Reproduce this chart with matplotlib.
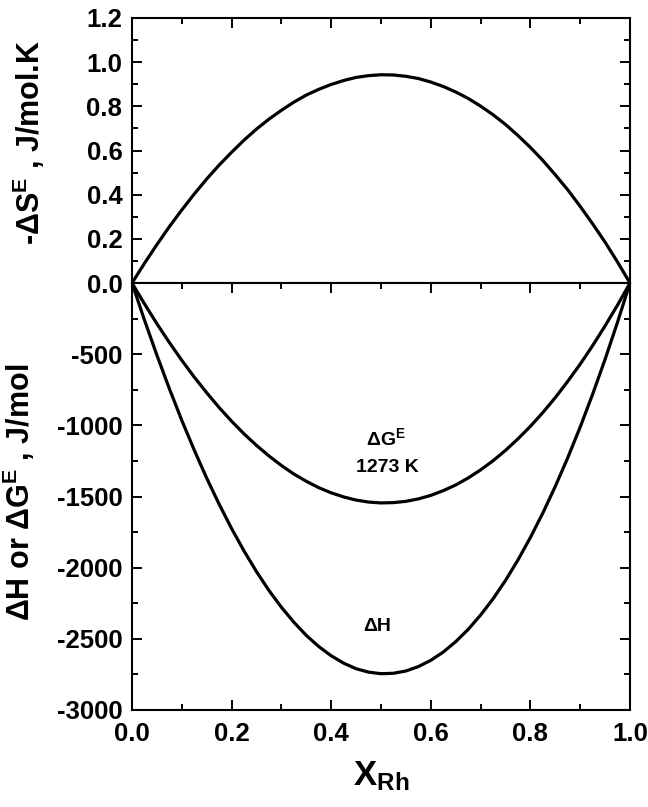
import numpy as np
import matplotlib
matplotlib.use("Agg")
import matplotlib.pyplot as plt
from matplotlib.ticker import MultipleLocator, FixedLocator, FixedFormatter

plt.rcParams['font.family'] = 'Liberation Sans'
plt.rcParams['font.weight'] = 'bold'
plt.rcParams['axes.labelweight'] = 'bold'
plt.rcParams['axes.unicode_minus'] = False
plt.rcParams['mathtext.fontset'] = 'custom'
plt.rcParams['mathtext.rm'] = 'Liberation Sans:bold'
plt.rcParams['mathtext.bf'] = 'Liberation Sans:bold'
plt.rcParams['mathtext.default'] = 'bf'

# mole fraction of Rh
x_rh = [0.0, 0.025, 0.05, 0.075, 0.10, 0.125, 0.15, 0.175, 0.20, 0.225,
        0.25, 0.275, 0.30, 0.325, 0.35, 0.375, 0.40, 0.425, 0.45, 0.475,
        0.50, 0.525, 0.55, 0.575, 0.60, 0.625, 0.65, 0.675, 0.70, 0.725,
        0.75, 0.775, 0.80, 0.825, 0.85, 0.875, 0.90, 0.925, 0.95, 0.975, 1.0]

# enthalpy of mixing, J/mol
dH = [0, -260, -507, -742, -965, -1174, -1371, -1554, -1725, -1883,
      -2028, -2160, -2278, -2383, -2476, -2554, -2619, -2671, -2710, -2734,
      -2745, -2742, -2726, -2695, -2651, -2593, -2520, -2434, -2333, -2219,
      -2090, -1946, -1788, -1616, -1429, -1228, -1012, -781, -536, -275, 0]

# excess Gibbs energy at 1273 K, J/mol
dG = [0, -146, -286, -418, -543, -661, -771, -875, -971, -1060,
      -1141, -1215, -1282, -1342, -1393, -1438, -1474, -1503, -1525, -1539,
      -1545, -1543, -1534, -1517, -1492, -1459, -1419, -1370, -1313, -1249,
      -1176, -1095, -1007, -910, -805, -691, -570, -440, -301, -155, 0]

# negative excess entropy, J/mol.K
mdS = [0.0, 0.089, 0.174, 0.255, 0.331, 0.403, 0.471, 0.534, 0.592, 0.647,
       0.697, 0.742, 0.782, 0.819, 0.851, 0.877, 0.899, 0.917, 0.931, 0.939,
       0.943, 0.942, 0.936, 0.926, 0.910, 0.890, 0.865, 0.836, 0.801, 0.762,
       0.718, 0.668, 0.614, 0.555, 0.490, 0.422, 0.347, 0.268, 0.185, 0.095, 0.0]

top_ticks = [0.0, 0.2, 0.4, 0.6, 0.8, 1.0, 1.2]
top_labels = ['0.0', '0.2', '0.4', '0.6', '0.8', '1.0', '1.2']
bot_ticks = [-3000, -2500, -2000, -1500, -1000, -500, 0]
bot_labels = ['-3000', '-2500', '-2000', '-1500', '-1000', '-500', '']
x_ticks = [0.0, 0.2, 0.4, 0.6, 0.8, 1.0]
x_labels = ['0.0', '0.2', '0.4', '0.6', '0.8', '1.0']

lw_curve = 2.3
tick_fs = 18.5

fig = plt.figure(figsize=(6.48, 8.07), dpi=100)
ax1 = fig.add_axes([0.2037, 0.6493, 0.7685, 0.3284])
ax2 = fig.add_axes([0.2037, 0.1202, 0.7685, 0.5291])

for ax in (ax1, ax2):
    for s in ax.spines.values():
        s.set_linewidth(1.5)
    ax.set_xlim(0, 1)
    ax.xaxis.set_major_locator(FixedLocator(x_ticks))
    ax.xaxis.set_minor_locator(MultipleLocator(0.1))
    ax.tick_params(which='both', direction='in', top=True, right=True,
                   width=1.4, labelsize=tick_fs)
    ax.tick_params(which='major', length=7)
    ax.tick_params(which='minor', length=4)
    ax.tick_params(axis='y', pad=7)
    ax.tick_params(axis='x', pad=9)

# upper panel: -dS excess
ax1.plot(x_rh, mdS, color='black', lw=lw_curve, solid_joinstyle='round')
ax1.set_ylim(0, 1.2)
ax1.yaxis.set_major_locator(FixedLocator(top_ticks))
ax1.yaxis.set_major_formatter(FixedFormatter(top_labels))
ax1.yaxis.set_minor_locator(MultipleLocator(0.1))
ax1.tick_params(which='both', bottom=False, labelbottom=False)
ax1.set_ylabel('-ΔS$^{E}$ , J/mol.K', fontsize=22, fontweight='bold')
ax1.yaxis.set_label_coords(-0.17, 0.53)

# lower panel: dH and dG excess
ax2.plot(x_rh, dH, color='black', lw=lw_curve, solid_joinstyle='round')
ax2.plot(x_rh, dG, color='black', lw=lw_curve, solid_joinstyle='round')
ax2.set_ylim(-3000, 0)
ax2.yaxis.set_major_locator(FixedLocator(bot_ticks))
ax2.yaxis.set_major_formatter(FixedFormatter(bot_labels))
ax2.yaxis.set_minor_locator(MultipleLocator(250))
ax2.xaxis.set_major_formatter(FixedFormatter(x_labels))
ax2.set_ylabel('ΔH or ΔG$^{E}$ , J/mol', fontsize=22, fontweight='bold')
ax2.yaxis.set_label_coords(-0.19, 0.51)
ax2.set_xlabel('X$_{Rh}$', fontsize=25, fontweight='bold')
ax2.xaxis.set_label_coords(0.5, -0.115)

ax2.text(0.509, -1089, 'ΔG$^{E}$', ha='center', va='center', fontsize=14)
ax2.text(0.513, -1293, '1273 K', ha='center', va='center', fontsize=14)
ax2.text(0.493, -2410, 'ΔH', ha='center', va='center', fontsize=14)

fig.savefig('out.png', dpi=100)
